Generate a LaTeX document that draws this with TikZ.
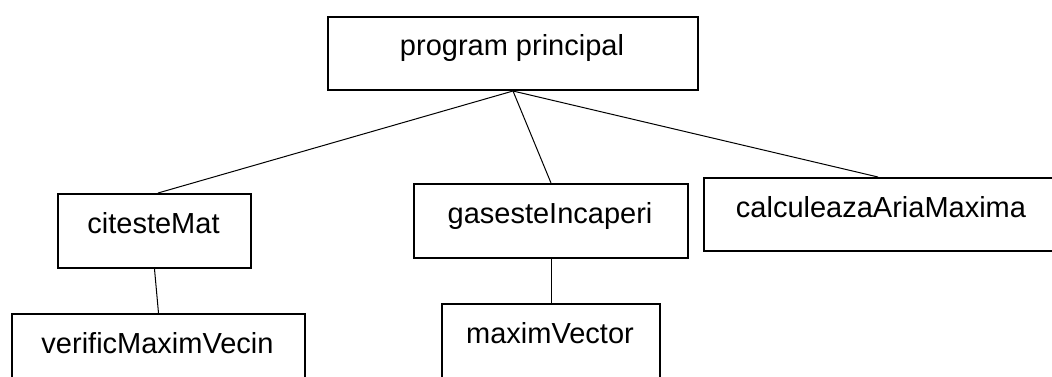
\documentclass[tikz,border=0pt]{standalone}
\usepackage{fontspec}
\setmainfont{Liberation Sans}
\begin{document}
\begin{tikzpicture}[x=1pt,y=-1pt,
  box/.style={draw,line width=2pt,inner sep=0pt,anchor=north west},
  lbl/.style={font=\fontsize{29}{34}\selectfont,anchor=base,inner sep=0pt},
  link/.style={line width=1pt}]
\useasboundingbox (0,0) rectangle (1052,376);
\clip (0,0) rectangle (1052,376);
% boxes
\node[box,minimum width=370pt,minimum height=73pt] (pp) at (327,16) {};
\node[box,minimum width=193pt,minimum height=74pt] (cm) at (57,193) {};
\node[box,minimum width=274pt,minimum height=74pt] (gi) at (413,183) {};
\node[box,minimum width=356pt,minimum height=73pt] (ca) at (703,177) {};
\node[box,minimum width=293pt,minimum height=74pt] (vm) at (11,313) {};
\node[box,minimum width=218pt,minimum height=74pt] (mv) at (441,303) {};
% labels
\node[lbl] (tpp) at (512,55) {program principal};
\node[lbl] (tcm) at (153.5,233) {citesteMat};
\node[lbl] (tgi) at (550,223) {gasesteIncaperi};
\node[lbl] (tca) at (881,217) {calculeazaAriaMaxima};
\node[lbl] (tvm) at (157.5,353) {verificMaximVecin};
\node[lbl] (tmv) at (550,343) {maximVector};
% connectors
\draw[link] (pp.south) -- ([xshift=3.5pt]cm.north);
\draw[link] (pp.south) -- (gi.north);
\draw[link] (pp.south) -- ([xshift=-4pt]ca.north);
\draw[link] (cm.south) -- (vm.north);
\draw[link] (gi.south) -- (mv.north);
\end{tikzpicture}
\end{document}
